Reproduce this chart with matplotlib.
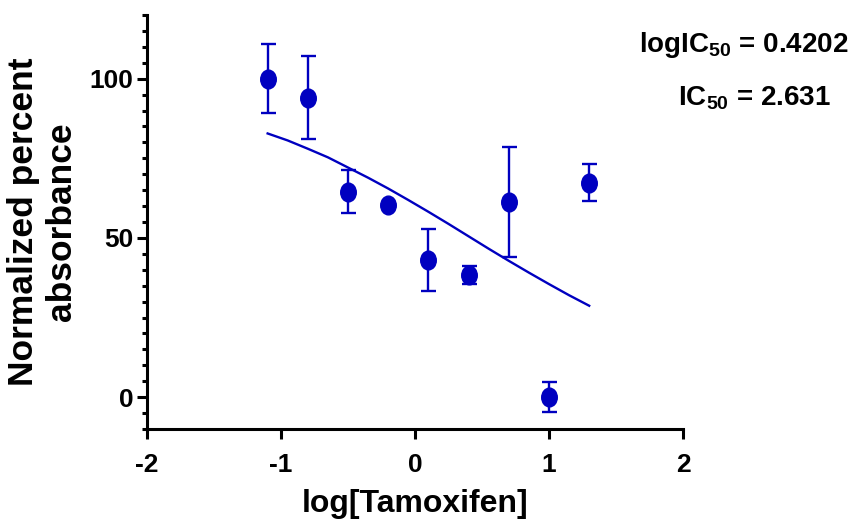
import matplotlib
matplotlib.use("Agg")
import matplotlib.pyplot as plt
from matplotlib.ticker import MultipleLocator
from matplotlib.path import Path
from matplotlib.transforms import Affine2D

plt.rcParams['font.family'] = ['Liberation Sans', 'DejaVu Sans']
plt.rcParams['font.weight'] = 'bold'
plt.rcParams['axes.unicode_minus'] = False
plt.rcParams['mathtext.fontset'] = 'custom'
plt.rcParams['mathtext.rm'] = 'Liberation Sans:bold'
plt.rcParams['mathtext.bf'] = 'Liberation Sans:bold'

# measured points (mean +/- error)
log_conc = [-1.1, -0.8, -0.5, -0.2, 0.1, 0.4, 0.7, 1.0, 1.3]
absorb = [100.0, 94.0, 64.5, 60.3, 43.0, 38.3, 61.2, 0.0, 67.4]
err = [10.9, 13.0, 6.8, 0.0, 9.7, 2.9, 17.3, 4.6, 5.7]

# fitted curve
fit_x = [-1.1, -0.95, -0.8, -0.65, -0.5, -0.35, -0.2, -0.05, 0.1,
         0.25, 0.4, 0.55, 0.7, 0.85, 1.0, 1.15, 1.3]
fit_y = [82.8, 80.6, 78.0, 75.3, 72.1, 68.9, 65.5, 61.9, 58.2,
         54.4, 50.5, 46.6, 42.8, 39.1, 35.5, 32.0, 28.7]

blue = '#0000C0'
# slightly tall oval marker like the original export
oval = Path.unit_circle().transformed(Affine2D().scale(0.83, 1.0))

fig = plt.figure(figsize=(8.5, 5.3), dpi=100)
ax = fig.add_axes([0.173, 0.1906, 0.6305, 0.7811])

ax.plot(fit_x, fit_y, color=blue, lw=1.7)
ax.errorbar(log_conc, absorb, yerr=err, fmt='none', ecolor=blue,
            elinewidth=1.7, capsize=5.4, capthick=1.7)
ax.plot(log_conc, absorb, linestyle='none', marker=oval, color=blue, ms=13.5)

ax.set_xlim(-2, 2)
ax.set_ylim(-10, 120)
ax.set_xticks([-2, -1, 0, 1, 2])
ax.set_yticks([0, 50, 100])
ax.yaxis.set_minor_locator(MultipleLocator(5))

for s in ['top', 'right']:
    ax.spines[s].set_visible(False)
for s in ['left', 'bottom']:
    ax.spines[s].set_linewidth(2.2)

ax.tick_params(axis='both', which='major', length=7, width=2.2, labelsize=19)
ax.tick_params(axis='x', which='major', pad=10)
ax.tick_params(axis='y', which='major', pad=3)
ax.tick_params(axis='y', which='minor', length=3.5, width=2.2)

ax.set_xlabel('log[Tamoxifen]', fontsize=23, fontweight='bold', labelpad=9)
ax.set_ylabel('Normalized percent\nabsorbance', fontsize=25.5, fontweight='bold',
              labelpad=8, linespacing=1.2)

fig.text(0.998, 0.902, 'logIC$_{50}$ = 0.4202', ha='right', va='baseline', fontsize=20,
         fontweight='bold')
fig.text(0.977, 0.802, 'IC$_{50}$ = 2.631', ha='right', va='baseline', fontsize=20,
         fontweight='bold')

fig.savefig('out.png', dpi=100)
